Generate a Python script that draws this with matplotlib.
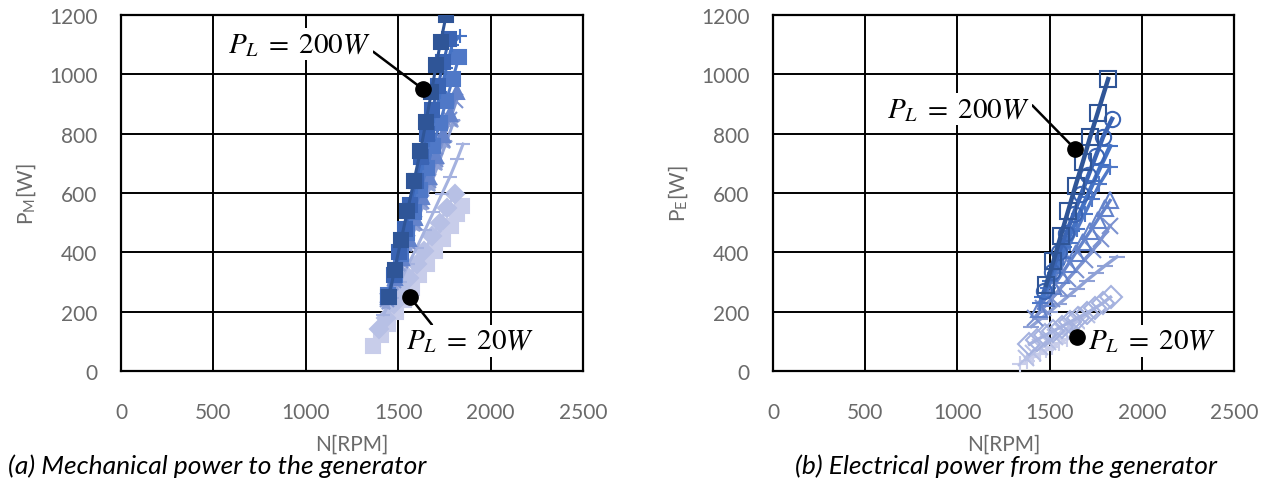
import matplotlib
matplotlib.use('Agg')
import matplotlib.pyplot as plt

plt.rcParams['font.family'] = ['Lato', 'DejaVu Sans']
plt.rcParams['mathtext.fontset'] = 'stix'

# load levels, lightest (20 W) to darkest (200 W)
loads = [20, 40, 60, 80, 100, 120, 140, 160, 180, 200]
colors = ['#C8CDEA', '#B7C0E5', '#A5B2DF', '#8FA1D6', '#7C92D0',
          '#6483CB', '#4F78C7', '#4472C4', '#3A64B4', '#2F5597']

# (a) mechanical power to the generator
mech_n = [
    [1364, 1405, 1445, 1488, 1530, 1572, 1615, 1655, 1700, 1740, 1785, 1820, 1845],
    [1395, 1435, 1478, 1520, 1560, 1600, 1640, 1685, 1725, 1765, 1807],
    [1420, 1465, 1510, 1555, 1600, 1645, 1690, 1735, 1780, 1820, 1851],
    [1435, 1475, 1515, 1555, 1595, 1635, 1675, 1715, 1760, 1800],
    [1440, 1478, 1516, 1554, 1592, 1630, 1668, 1706, 1744, 1782, 1815],
    [1445, 1482, 1519, 1556, 1593, 1630, 1667, 1704, 1741, 1780, 1818],
    [1445, 1480, 1515, 1550, 1585, 1620, 1655, 1690, 1725, 1760, 1795, 1830],
    [1440, 1472, 1504, 1536, 1568, 1600, 1632, 1664, 1696, 1728, 1760, 1792, 1834],
    [1445, 1475, 1505, 1535, 1565, 1595, 1625, 1655, 1685, 1715, 1745, 1775],
    [1450, 1480, 1515, 1550, 1585, 1620, 1650, 1680, 1705, 1730, 1760],
]
mech_p = [
    [84, 120, 160, 198, 240, 280, 322, 360, 405, 445, 490, 530, 556],
    [140, 180, 225, 270, 315, 360, 405, 455, 500, 550, 597],
    [190, 245, 300, 360, 415, 475, 535, 595, 655, 715, 765],
    [225, 290, 355, 420, 490, 560, 625, 695, 770, 840],
    [240, 305, 370, 435, 500, 570, 640, 710, 780, 850, 910],
    [250, 315, 380, 445, 515, 585, 655, 725, 795, 865, 940],
    [255, 325, 395, 465, 535, 610, 685, 760, 835, 910, 985, 1060],
    [250, 320, 395, 470, 545, 620, 700, 780, 860, 940, 1020, 1100, 1130],
    [250, 325, 400, 480, 560, 640, 720, 800, 880, 960, 1040, 1120],
    [250, 340, 440, 540, 640, 740, 840, 940, 1030, 1110, 1200],
]
mech_markers = ['s', 'D', '_', '*', 'x', '^', 's', '+', 's', 's']

# (b) electrical power from the generator
elec_n = [
    [1340, 1375, 1410, 1445, 1480, 1515, 1550, 1594],
    [1370, 1410, 1450, 1490, 1530, 1570, 1610, 1650, 1700],
    [1390, 1430, 1475, 1520, 1565, 1610, 1655, 1700, 1745, 1790, 1830],
    [1400, 1450, 1500, 1550, 1600, 1650, 1700, 1750, 1800, 1865],
    [1420, 1465, 1510, 1555, 1600, 1645, 1690, 1735, 1780, 1828],
    [1440, 1480, 1520, 1560, 1600, 1640, 1680, 1720, 1760, 1800, 1828],
    [1450, 1490, 1530, 1570, 1610, 1650, 1690, 1730, 1770, 1828],
    [1460, 1500, 1540, 1580, 1620, 1660, 1700, 1740, 1780, 1828],
    [1470, 1510, 1550, 1590, 1630, 1670, 1710, 1750, 1790, 1838],
    [1480, 1520, 1560, 1600, 1640, 1680, 1720, 1760, 1817],
]
elec_p = [
    [24, 35, 47, 58, 70, 82, 94, 108],
    [45, 62, 80, 98, 115, 132, 150, 168, 188],
    [90, 105, 120, 135, 150, 165, 180, 195, 212, 230, 249],
    [150, 175, 200, 226, 252, 278, 305, 330, 355, 385],
    [180, 212, 244, 277, 310, 342, 375, 408, 445, 490],
    [210, 247, 285, 322, 360, 397, 435, 472, 510, 548, 575],
    [230, 280, 330, 380, 430, 480, 530, 580, 630, 688],
    [250, 305, 360, 417, 472, 528, 585, 640, 695, 758],
    [270, 335, 400, 465, 530, 595, 660, 725, 790, 850],
    [290, 370, 455, 540, 625, 705, 790, 870, 984],
]
elec_markers = ['+', 'x', 'D', '_', 'x', '^', '+', '_', 'o', 's']

x_ticks = [0, 500, 1000, 1500, 2000, 2500]
y_ticks = [0, 200, 400, 600, 800, 1000, 1200]

fig = plt.figure(figsize=(12.74, 4.81), dpi=100)
ax1 = fig.add_axes([0.0950, 0.2266, 0.3626, 0.7401])
ax2 = fig.add_axes([0.6068, 0.2266, 0.3619, 0.7401])

def setup(ax, ylabel):
    ax.set_xlim(0, 2500)
    ax.set_ylim(0, 1200)
    ax.set_xticks(x_ticks)
    ax.set_yticks(y_ticks)
    ax.grid(True, color='black', lw=1.4)
    ax.set_axisbelow(True)
    for s in ax.spines.values():
        s.set_linewidth(1.6)
    ax.tick_params(length=0, labelsize=15, colors='#6a6a6a', pad=17)
    ax.tick_params(axis='x', pad=22)
    ax.set_xlabel('N[RPM]', fontsize=15, color='#6a6a6a', labelpad=9)
    ax.set_ylabel(ylabel, fontsize=15, color='#6a6a6a', labelpad=8)

# left: filled markers
for i in range(len(loads)):
    ax1.plot(mech_n[i], mech_p[i], color=colors[i], lw=2.2, marker=mech_markers[i],
             ms=9.5, mfc=colors[i], mec=colors[i], mew=1.5, zorder=3)
setup(ax1, r'P$_\mathregular{M}$[W]')

# right: open markers
for i in range(len(loads)):
    lw = 3.2 if loads[i] >= 160 else 2.4
    ax2.plot(elec_n[i], elec_p[i], color=colors[i], lw=lw, marker=elec_markers[i],
             ms=11, mfc='none', mec=colors[i], mew=1.5, zorder=3)
setup(ax2, r'P$_\mathregular{E}$[W]')

box = dict(boxstyle='square,pad=0.1', fc='white', ec='none')
arr = dict(arrowstyle='-', color='black', lw=1.8, shrinkA=0, shrinkB=0)

def label(ax, txt, dot, pos, rel):
    a = dict(arr)
    a['relpos'] = rel
    ax.annotate(txt, xy=dot, xytext=pos, ha='center', va='center', fontsize=21,
                bbox=box, arrowprops=a, zorder=6)
    ax.plot(dot[0], dot[1], 'o', color='black', ms=11, zorder=7)

label(ax1, r'$P_L\;=\;200W$', (1634, 950), (963, 1102), (1.0, 0.3))
label(ax1, r'$P_L\;=\;20W$', (1564, 249), (1889, 101), (0.27, 0.7))
label(ax2, r'$P_L\;=\;200W$', (1638, 748), (1003, 883), (1.0, 0.75))
label(ax2, r'$P_L\;=\;20W$', (1649, 115), (2055, 101), (0.05, 0.4))

fig.text(0.006, 0.030, '(a) Mechanical power to the generator', fontsize=19,
         style='italic', color='black', ha='left', va='center')
fig.text(0.624, 0.030, '(b) Electrical power from the generator', fontsize=19,
         style='italic', color='black', ha='left', va='center')

fig.savefig('out.png', dpi=100)
